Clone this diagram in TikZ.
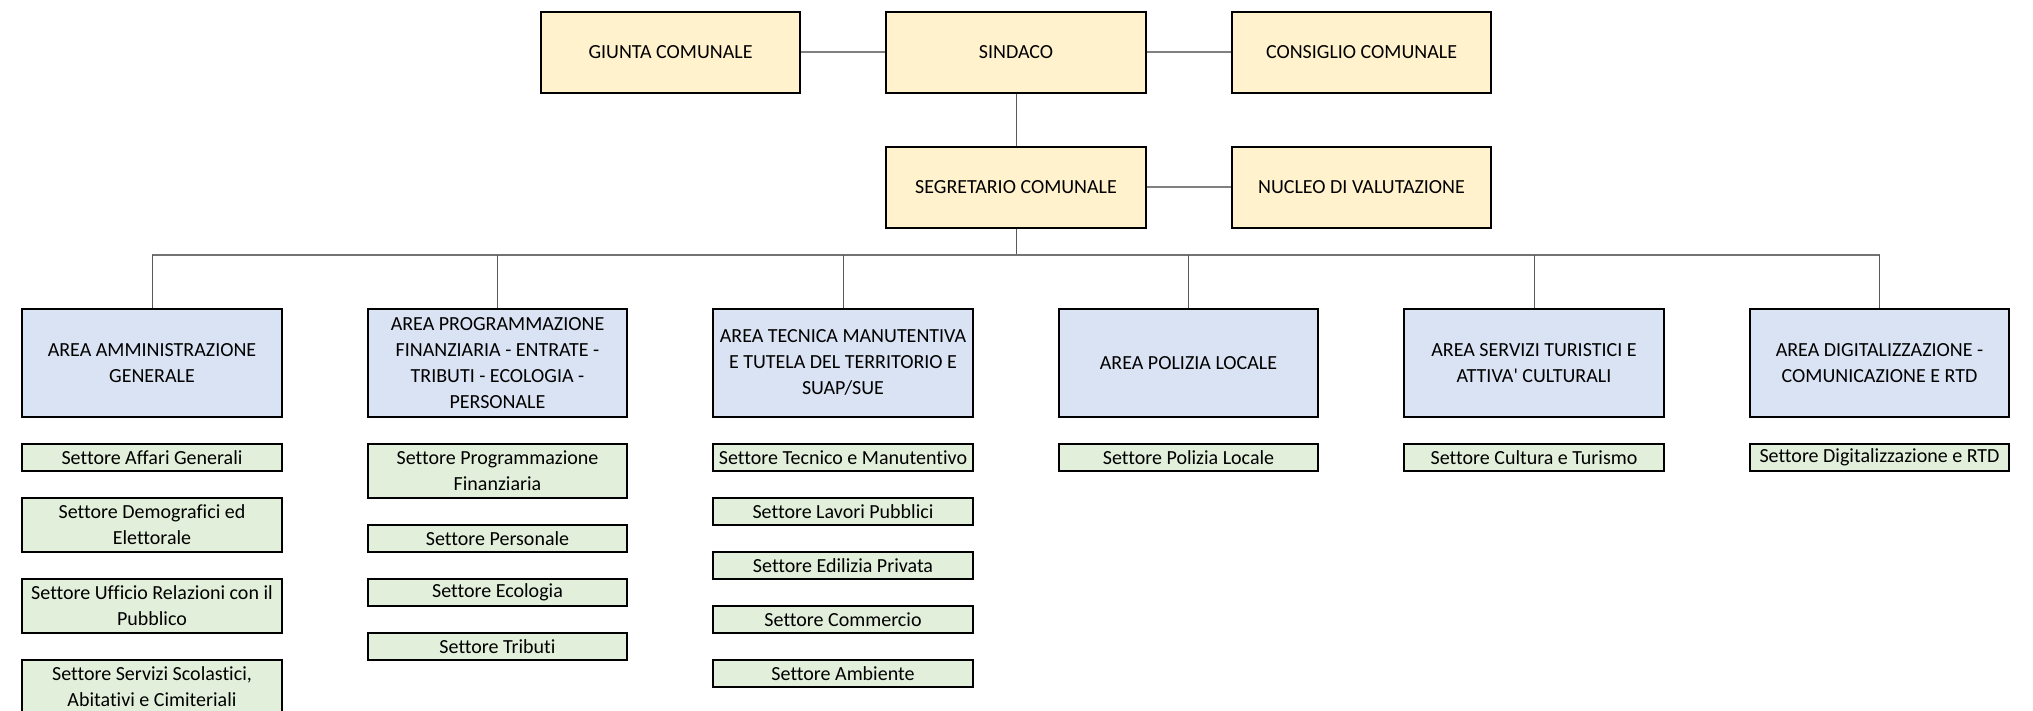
\documentclass[tikz,border=0pt]{standalone}
\usepackage{fontspec}
\setmainfont[Ligatures=NoCommon]{Carlito}
\usepackage{tikz}
\usetikzlibrary{calc}
\definecolor{giallino}{HTML}{FFF2CC}
\definecolor{azzurrino}{HTML}{DAE3F3}
\definecolor{verdino}{HTML}{E2EFDA}
\definecolor{grigiolinea}{HTML}{595959}

\begin{document}
\begin{tikzpicture}[x=0.5pt,y=-0.5pt,
	font=\fontsize{10}{13}\selectfont,
	box/.style={draw=black,line width=0.9pt,align=center,inner xsep=0pt,inner ysep=1pt,
		minimum width=129.75pt},
	vertice/.style={box,fill=giallino,minimum height=40.5pt},
	area/.style={box,fill=azzurrino,minimum height=54pt},
	settore/.style={box,fill=verdino,minimum height=13.5pt},
	settoredue/.style={settore,minimum height=27pt},
	linea/.style={draw=grigiolinea,line width=0.5pt},
	lineaspessa/.style={draw=gray,line width=0.9pt}]
	\clip (0,0) rectangle (2033,711);
	% vertici politici e amministrativi
	\node[vertice] (giunta) at (670.5,52.2) {GIUNTA COMUNALE};
	\node[vertice] (sindaco) at (1016,52.2) {SINDACO};
	\node[vertice] (consiglio) at (1361.5,52.2) {CONSIGLIO COMUNALE};
	\node[vertice] (segretario) at (1016,187.2) {SEGRETARIO COMUNALE};
	\node[vertice] (nucleo) at (1361.5,187.2) {NUCLEO DI VALUTAZIONE};
	% le sei aree
	\node[area] (area1) at (152,362.7) {AREA AMMINISTRAZIONE\\GENERALE};
	\node[area] (area2) at (497.5,362.7) {AREA PROGRAMMAZIONE\\FINANZIARIA - ENTRATE -\\TRIBUTI - ECOLOGIA -\\PERSONALE};
	\node[area] (area3) at (843,362.7) {AREA TECNICA MANUTENTIVA\\E TUTELA DEL TERRITORIO E\\SUAP/SUE};
	\node[area] (area4) at (1188.5,362.7) {AREA POLIZIA LOCALE};
	\node[area] (area5) at (1534,362.7) {AREA SERVIZI TURISTICI E\\ATTIVA\textquotesingle{} CULTURALI};
	\node[area] (area6) at (1879.5,362.7) {AREA DIGITALIZZAZIONE -\\COMUNICAZIONE E RTD};
	% settori dell'area amministrazione generale
	\node[settore] (aff) at (152,457.2) {Settore Affari Generali};
	\node[settoredue] (dem) at (152,524.7) {Settore Demografici ed\\Elettorale};
	\node[settoredue] (urp) at (152,605.7) {Settore Ufficio Relazioni con il\\Pubblico};
	\node[settoredue] (scol) at (152,686.7) {Settore Servizi Scolastici,\\Abitativi e Cimiteriali};
	% settori dell'area finanziaria
	\node[settoredue] (prog) at (497.5,470.7) {Settore Programmazione\\Finanziaria};
	\node[settore] (pers) at (497.5,538.2) {Settore Personale};
	\node[settore] (ecol) at (497.5,592.2) {Settore Ecologia};
	\node[settore] (trib) at (497.5,646.2) {Settore Tributi};
	% settori dell'area tecnica
	\node[settore] (tec) at (843,457.2) {Settore Tecnico e Manutentivo};
	\node[settore] (lav) at (843,511.2) {Settore Lavori Pubblici};
	\node[settore] (edil) at (843,565.2) {Settore Edilizia Privata};
	\node[settore] (comm) at (843,619.2) {Settore Commercio};
	\node[settore] (amb) at (843,673.2) {Settore Ambiente};
	% settori delle altre aree
	\node[settore] (pol) at (1188.5,457.2) {Settore Polizia Locale};
	\node[settore] (cult) at (1534,457.2) {Settore Cultura e Turismo};
	\node[settore] (dig) at (1879.5,457.2) {Settore Digitalizzazione e RTD};
	% collegamenti
	\draw[lineaspessa] (giunta.east) -- (sindaco.west);
	\draw[lineaspessa] (sindaco.east) -- (consiglio.west);
	\draw[lineaspessa] (segretario.east) -- (nucleo.west);
	\draw[linea] (sindaco.south) -- (segretario.north);
	\coordinate (bus) at (1016,254.7);
	\draw[linea] (segretario.south) -- (bus);
	\draw[lineaspessa,draw=gray!90!black] (area1.north |- bus) -- (area6.north |- bus);
	\foreach \a in {area1,area2,area3,area4,area5,area6}
		\draw[linea] (\a.north |- bus) -- (\a.north);
\end{tikzpicture}
\end{document}
